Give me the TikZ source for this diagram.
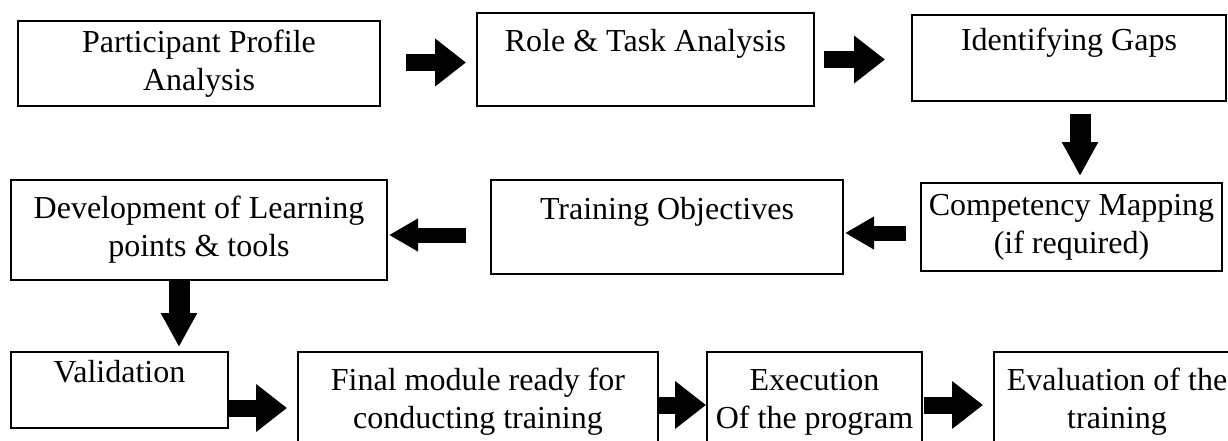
\documentclass[tikz,border=0pt]{standalone}
\usepackage{fontspec}
\setmainfont{Liberation Serif}
\usetikzlibrary{arrows.meta}

\begin{document}
\begin{tikzpicture}[
			x=1pt, y=-1pt,
			box/.style={draw, line width=2pt, align=center, inner sep=0pt,
				font=\fontsize{32}{38}\selectfont},
			harrow/.style={line width=17pt, -{Triangle[width=46pt,length=31pt]}},
			larrow/.style={line width=15pt, -{Triangle[width=31pt,length=29pt]}},
			varrow/.style={line width=21pt, -{Triangle[width=34pt,length=34pt]}}
			]
			\clip (0,0) rectangle (1228,441);
			% first row
			\node [box, minimum width=362pt, minimum height=85pt] (profile) at (199,63.5) {Participant Profile\\Analysis};
			\node [box, minimum width=337pt, minimum height=93pt] (role) at (645.5,59.5) {Role \& Task Analysis\\~};
			\node [box, minimum width=314pt, minimum height=86pt] (gaps) at (1069,58) {Identifying Gaps\\~};
			% second row
			\node [box, minimum width=376pt, minimum height=100pt] (learning) at (199,230) {Development of Learning\\points \& tools};
			\node [box, minimum width=352pt, minimum height=94pt] (objectives) at (667,227) {Training Objectives\\~};
			\node [box, minimum width=301pt, minimum height=88pt] (mapping) at (1071.5,227) {Competency Mapping\\(if required)};
			% third row
			\node [box, minimum width=217pt, minimum height=76pt] (validation) at (119.5,390) {Validation\\~};
			\node [box, minimum width=360pt, minimum height=100pt] (final) at (478,402) {Final module ready for\\conducting training};
			\node [box, minimum width=215pt, minimum height=100pt] (execution) at (814.5,402) {Execution\\Of the program};
			\node [box, minimum width=246pt, minimum height=100pt] (evaluation) at (1117,402) {Evaluation of the\\training};

			\draw [harrow, shorten <=25pt, shorten >=10pt] ([yshift=1pt]profile.east) -- ([yshift=1pt]profile.east -| role.west);
			\draw [harrow, shorten <=9pt, shorten >=26pt] (role.east) -- (role.east -| gaps.west);
			\draw [varrow, shorten <=12pt, shorten >=6pt] ([xshift=11pt]gaps.south) -- ([xshift=11pt]gaps.south |- mapping.north);
			\draw [larrow, shorten <=14pt, shorten >=1pt] ([yshift=-6pt]mapping.west) -- ([yshift=-6pt]mapping.west -| objectives.east);
			\draw [larrow, shorten <=24pt, shorten >=1pt] ([yshift=-8pt]objectives.west) -- ([yshift=-8pt]objectives.west -| learning.east);
			\draw [varrow, shorten >=4pt] ([xshift=-20pt]learning.south) -- ([xshift=-20pt]learning.south |- validation.north);
			\draw [harrow, shorten >=10pt] ([yshift=-18pt]validation.east) -- ([yshift=-18pt]validation.east -| final.west);
			\draw [harrow] ([yshift=-3pt]final.east) -- ([yshift=-3pt]final.east -| execution.west);
			\draw [harrow, shorten <=1pt, shorten >=10pt] ([yshift=-3pt]execution.east) -- ([yshift=-3pt]execution.east -| evaluation.west);
		\end{tikzpicture}
\end{document}
